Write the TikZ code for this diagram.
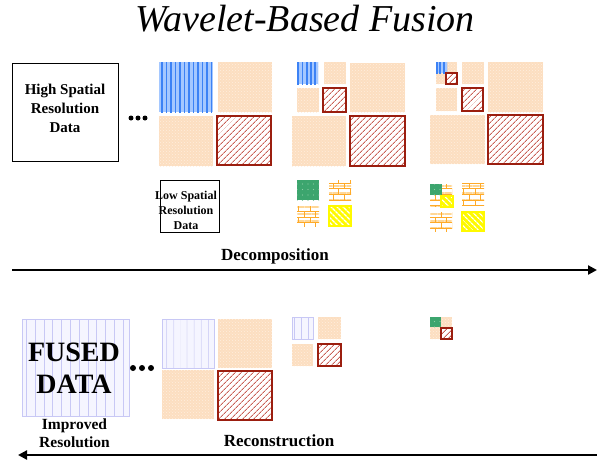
\documentclass[tikz,border=0pt]{standalone}
\usepackage{fontspec}
\setmainfont{Liberation Serif}
\usetikzlibrary{patterns,patterns.meta,arrows.meta}
\definecolor{peach}{RGB}{252,222,192}
\definecolor{peachlt}{RGB}{255,238,222}
\definecolor{bluedk}{RGB}{60,130,245}
\definecolor{bluelt}{RGB}{165,200,255}
\definecolor{hatchred}{RGB}{155,30,15}
\definecolor{hatchln}{RGB}{200,95,85}
\definecolor{lavd}{RGB}{200,200,245}
\definecolor{lavlt}{RGB}{245,245,255}
\definecolor{grn}{RGB}{60,165,110}
\definecolor{grnlt}{RGB}{140,205,165}
\definecolor{gold}{RGB}{255,170,40}
\definecolor{goldlt}{RGB}{255,215,150}
\definecolor{yel}{RGB}{255,250,0}
\pgfdeclarepatternformonly{sparsedots}{\pgfpoint{-1pt}{-1pt}}{\pgfpoint{1pt}{1pt}}{\pgfpoint{5.5pt}{5.5pt}}{\pgfpathcircle{\pgfpoint{0pt}{0pt}}{0.7pt}\pgfusepath{fill}}
\newcommand{\pch}[2]{\fill[peach] (#1) rectangle (#2); \path[pattern=crosshatch dots, pattern color=peachlt] (#1) rectangle (#2);}
\newcommand{\blu}[3]{\fill[bluelt] (#1) rectangle (#2); \path[pattern={Lines[angle=90,distance=#3,line width=1.8pt]}, pattern color=bluedk] (#1) rectangle (#2);}
\newcommand{\htc}[2]{\fill[white] (#1) rectangle (#2); \path[pattern={Lines[angle=45,distance=4pt,line width=0.9pt]}, pattern color=hatchln] (#1) rectangle (#2); \draw[hatchred, line width=1.5pt] (#1) rectangle (#2);}
\newcommand{\lvb}[3]{\fill[lavlt] (#1) rectangle (#2); \path[pattern={Lines[angle=90,distance=#3,line width=0.8pt]}, pattern color=lavd] (#1) rectangle (#2); \draw[lavd, line width=1pt] (#1) rectangle (#2);}
\newcommand{\grb}[2]{\fill[grn] (#1) rectangle (#2); \path[pattern=sparsedots, pattern color=grnlt] (#1) rectangle (#2);}
\newcommand{\wvb}[2]{\path[pattern={Lines[angle=0,distance=7pt,line width=2.5pt]}, pattern color=goldlt] (#1) rectangle (#2); \path[pattern=bricks, pattern color=gold] (#1) rectangle (#2);}
\newcommand{\ylb}[2]{\fill[yel] (#1) rectangle (#2); \path[pattern={Lines[angle=-45,distance=4pt,line width=1.4pt]}, pattern color=white] (#1) rectangle (#2); \draw[yel, line width=1.2pt] (#1) rectangle (#2);}
\tikzset{
  lbl/.style={font=\bfseries, align=center, inner sep=0pt},
  dot/.style={circle, fill=black, inner sep=0pt, minimum size=5pt},
  bigarrow/.style={line width=2.6pt, -{Triangle[length=9pt,width=9pt]}}
}
\begin{document}
\begin{tikzpicture}[x=1pt,y=-1pt]
\useasboundingbox (0,0) rectangle (597,459);
% title
\node[font=\itshape\fontsize{38}{42}\selectfont, anchor=base, inner sep=0pt] (title) at (305,31) {Wavelet-Based Fusion};
% high res box
\node[draw, line width=0.9pt, minimum width=106pt, minimum height=98pt, inner sep=0pt] (hi) at (65,112) {};
\node[lbl, font=\bfseries\fontsize{15}{19}\selectfont] (hitxt) at (65,108) {High Spatial\\Resolution\\Data};
\node[dot] (d1) at (131,118) {};
\node[dot] (d2) at (138,118) {};
\node[dot] (d3) at (145,118) {};
% level 1
\blu{159,62}{213,112}{4.5pt}
\pch{218,62}{272,112}
\pch{159,116}{213,166}
\htc{217,116}{271,165}
% level 2
\blu{297,62}{318,84}{4.2pt}
\pch{324,62}{346,84}
\pch{297,88}{319,112}
\htc{323,88}{346,112}
\pch{350,63}{405,112}
\pch{292,116}{346,166}
\htc{350,116}{405,166}
% level 3
\pch{436,62}{457,84}
\blu{436,62}{447,73}{3.7pt}
\htc{446,73}{457,84}
\pch{462,62}{484,84}
\pch{436,88}{457,111}
\htc{462,88}{483,111}
\pch{488,62}{543,112}
\pch{430,115}{485,164}
\htc{488,115}{543,164}
% low res box
\node[draw, line width=0.9pt, minimum width=59pt, minimum height=52pt, inner sep=0pt] (lo) at (189.5,206) {};
\node[lbl, font=\bfseries\fontsize{12}{15}\selectfont] (lotxt) at (186,210) {Low Spatial\\Resolution\\Data};
% row 2 level 2
\grb{297,180}{319,200}
\wvb{329,180}{351,200}
\wvb{297,206}{319,226}
\ylb{329,206}{351,226}
% row 2 level 3
\wvb{430,184}{452,206}
\grb{430,184}{442,195}
\ylb{441,196}{453,207}
\wvb{462,183}{484,205}
\wvb{430,212}{452,231}
\ylb{462,212}{484,231}
% decomposition arrow
\node[lbl, font=\bfseries\fontsize{17}{20}\selectfont] (dec) at (275,256) {Decomposition};
\coordinate (a1) at (12,270);
\coordinate (a2) at (597,270);
\draw[bigarrow] (a1) -- (a2);
% fused data
\lvb{22,319}{129,416}{8.8pt}
\node[lbl, font=\bfseries\fontsize{28}{32}\selectfont] (fused) at (74,368) {FUSED\\DATA};
\node[dot, minimum size=6pt] (e1) at (133,368) {};
\node[dot, minimum size=6pt] (e2) at (142,368) {};
\node[dot, minimum size=6pt] (e3) at (151,368) {};
% recon level 1
\lvb{162,319}{214,368}{7.4pt}
\pch{218,319}{272,368}
\pch{162,370}{214,419}
\htc{218,371}{272,420}
% recon level 2
\lvb{292,317}{313,339}{7pt}
\pch{318,317}{341,339}
\pch{292,344}{313,366}
\htc{318,344}{341,366}
% recon level 3
\pch{430,317}{452,339}
\grb{430,317}{441,327}
\htc{441,328}{452,339}
% labels
\node[lbl, font=\bfseries\fontsize{15.5}{18}\selectfont] (imp) at (74.5,433) {Improved\\Resolution};
\node[lbl, font=\bfseries\fontsize{17}{20}\selectfont] (rec) at (279,441) {Reconstruction};
\coordinate (b1) at (597,455);
\coordinate (b2) at (18,455);
\draw[bigarrow] (b1) -- (b2);
\end{tikzpicture}
\end{document}
